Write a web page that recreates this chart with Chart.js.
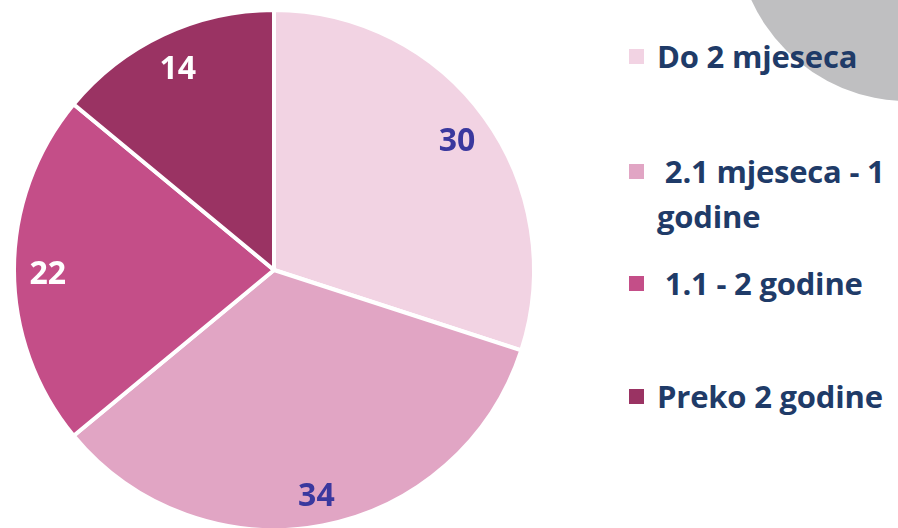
<!DOCTYPE html>
<html>
<head>
<meta charset="utf-8">
<script src="https://cdn.jsdelivr.net/npm/chart.js@4"></script>
<style>
    html, body { margin: 0; padding: 0; background: #fff; }
    body { width: 898px; height: 528px; overflow: hidden; position: relative; font-family: "Open Sans", Lato, sans-serif; }
    .blob { position: absolute; left: 736px; top: -243px; width: 344px; height: 344px; border-radius: 50%; background: #bfbfc1; }
    .chart-box { position: absolute; left: 0; top: 0; width: 548px; height: 540px; }
    .legend { position: absolute; left: 629px; top: 0; width: 270px; }
    .legend-item { position: absolute; left: 0; white-space: pre; color: #1f3b68; font-weight: 700; font-size: 31px; line-height: 45px; letter-spacing: -0.2px; }
    .legend-item .box { position: absolute; left: 0; top: 15px; width: 15px; height: 15px; }
    .legend-item .txt { display: block; margin-left: 28px; }
</style>
</head>
<body>
<div class="blob"></div>
<div class="chart-box"><canvas id="pieChart"></canvas></div>
<div class="legend" id="legend"></div>
<script>
// Chart data
const categories = ['Do 2 mjeseca', ' 2.1 mjeseca - 1\ngodine', ' 1.1 - 2 godine', 'Preko 2 godine'];
const values = [30, 34, 22, 14];
const sliceColors = ['#f2d3e3', '#e1a5c4', '#c44e88', '#9a3363'];
const labelColors = ['#3a389e', '#3a389e', '#ffffff', '#ffffff'];
const legendTops = [34, 149, 261, 374];

// Draw value labels near the outer edge of each slice
const valueLabels = {
    id: 'valueLabels',
    afterDatasetsDraw(chart) {
        const ctx = chart.ctx;
        const meta = chart.getDatasetMeta(0);
        ctx.save();
        ctx.font = '700 32px "Open Sans", Lato, sans-serif';
        ctx.textAlign = 'center';
        ctx.textBaseline = 'middle';
        meta.data.forEach((arc, i) => {
            const p = arc.getProps(['x', 'y', 'startAngle', 'endAngle', 'outerRadius'], true);
            const mid = (p.startAngle + p.endAngle) / 2;
            const r = p.outerRadius * 0.87;
            ctx.fillStyle = labelColors[i];
            ctx.fillText(values[i], p.x + Math.cos(mid) * r, p.y + Math.sin(mid) * r + 5);
        });
        ctx.restore();
    }
};

document.addEventListener('DOMContentLoaded', function() {
    const ctx = document.getElementById('pieChart').getContext('2d');
    new Chart(ctx, {
        type: 'pie',
        data: {
            labels: categories,
            datasets: [{
                data: values,
                backgroundColor: sliceColors,
                borderColor: '#ffffff',
                borderWidth: 4,
                hoverOffset: 0
            }]
        },
        options: {
            responsive: true,
            maintainAspectRatio: false,
            animation: false,
            layout: { padding: 8 },
            plugins: {
                legend: { display: false },
                tooltip: { enabled: false }
            }
        },
        plugins: [valueLabels]
    });

    // Legend on the right
    const legend = document.getElementById('legend');
    legend.innerHTML = categories.map((label, i) =>
        '<div class="legend-item" style="top:' + legendTops[i] + 'px">' +
            '<span class="box" style="background:' + sliceColors[i] + '"></span>' +
            '<span class="txt">' + label.split('\n').join('</span><span class="txt">') + '</span>' +
        '</div>'
    ).join('');
});
</script>
</body>
</html>
